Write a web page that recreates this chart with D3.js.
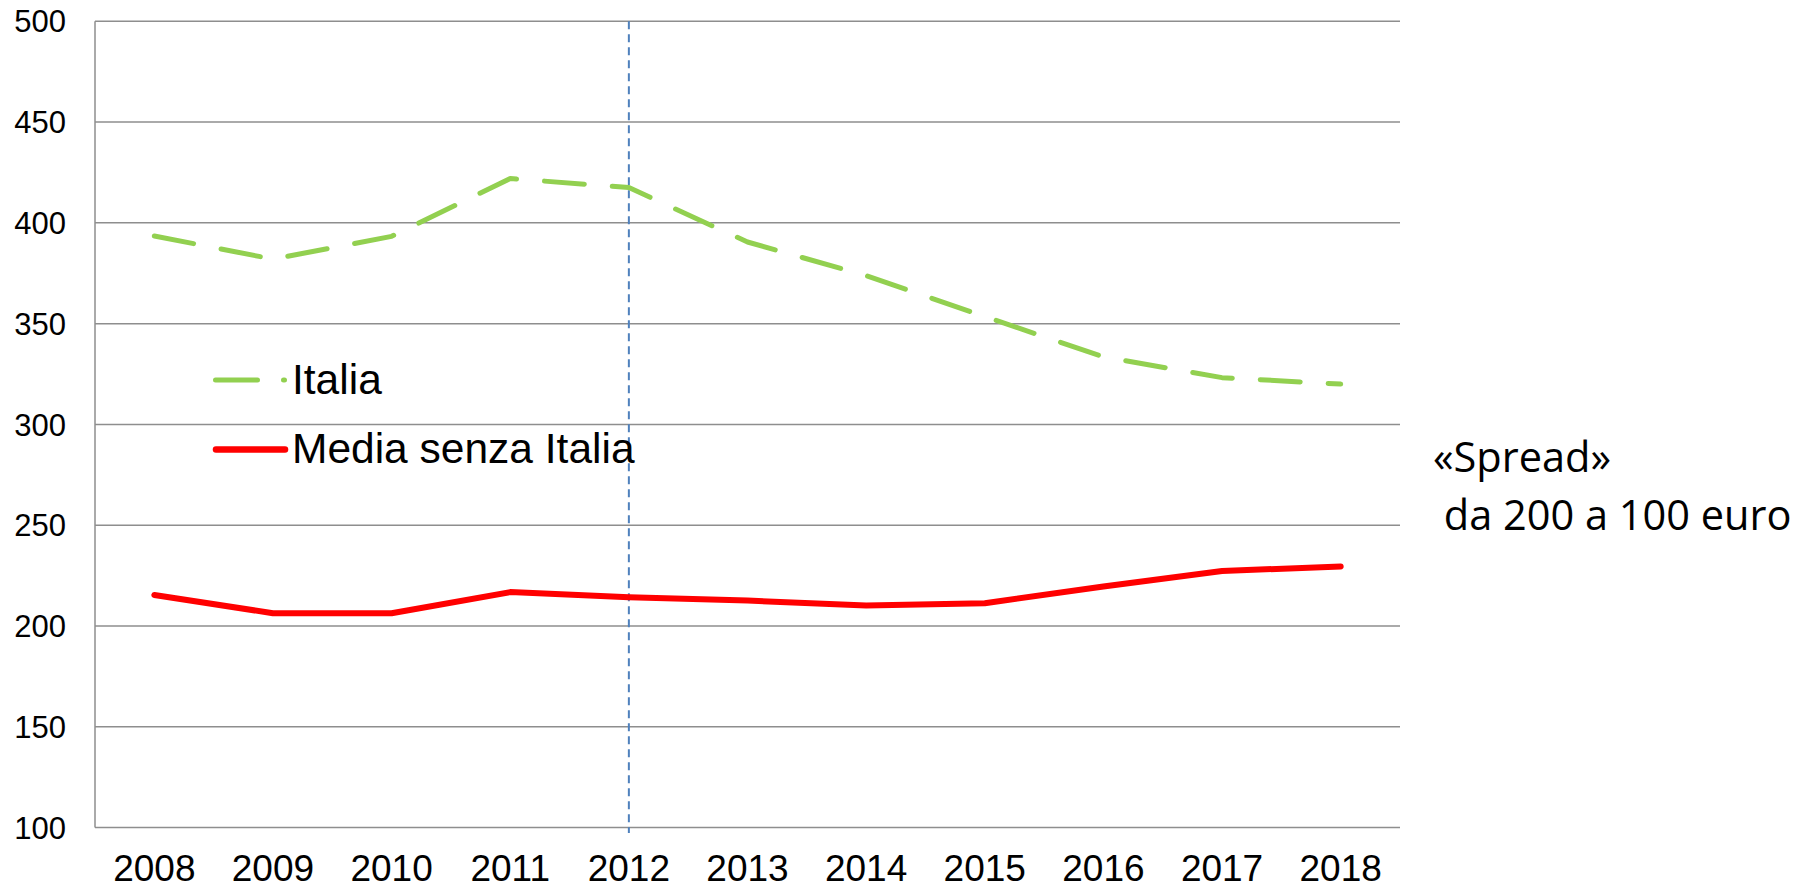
<!DOCTYPE html>
<html>
<head>
<meta charset="utf-8">
<script src="https://cdn.jsdelivr.net/npm/d3@7"></script>
<style>
  body { margin: 0; background: #fff; }
  text { font-family: "Liberation Sans", Arial, sans-serif; fill: #000; }
</style>
</head>
<body>
<div id="plot"></div>
<script>
// Data
var years = ["2008","2009","2010","2011","2012","2013","2014","2015","2016","2017","2018"];
var italia = [393.5, 382, 393.3, 422, 417.5, 390.5, 373.8, 353.5, 333.5, 323.2, 320];
var mediaSenzaItalia = [215.4, 206.3, 206.3, 216.8, 214.3, 212.6, 210.1, 211.3, 219.6, 227.3, 229.5];
var yTicks = [100, 150, 200, 250, 300, 350, 400, 450, 500];
var markYear = "2012";
var noteLines = ["«Spread»", " da 200 a 100 euro"];

var width = 1814, height = 891;
var plot = {left: 95, right: 1400, top: 21.3, bottom: 827.5};

var svg = d3.select("#plot")
     .append("svg")
     .attr("width", width)
     .attr("height", height);

var x = d3.scalePoint()
     .domain(years)
     .range([plot.left, plot.right])
     .padding(0.5);

var y = d3.scaleLinear()
     .domain([100, 500])
     .range([plot.bottom, plot.top]);

// gridlines
svg.append("g")
     .selectAll("line")
     .data(yTicks)
     .enter()
     .append("line")
     .attr("x1", plot.left)
     .attr("x2", plot.right)
     .attr("y1", function(d){ return y(d); })
     .attr("y2", function(d){ return y(d); })
     .attr("stroke", "#8e8e8e")
     .attr("stroke-width", 1.5);

// left axis line
svg.append("line")
     .attr("x1", plot.left).attr("x2", plot.left)
     .attr("y1", plot.top).attr("y2", plot.bottom)
     .attr("stroke", "#8e8e8e")
     .attr("stroke-width", 1.5);

// y labels
svg.append("g")
     .selectAll("text")
     .data(yTicks)
     .enter()
     .append("text")
     .attr("x", 66)
     .attr("y", function(d){ return y(d); })
     .attr("dy", "0.36em")
     .attr("text-anchor", "end")
     .style("font-size", "31px")
     .text(function(d){ return d; });

// x labels
svg.append("g")
     .selectAll("text")
     .data(years)
     .enter()
     .append("text")
     .attr("x", function(d){ return x(d); })
     .attr("y", 881)
     .attr("text-anchor", "middle")
     .style("font-size", "37px")
     .text(function(d){ return d; });

// vertical marker at 2012
svg.append("line")
     .attr("x1", x(markYear)).attr("x2", x(markYear))
     .attr("y1", plot.top).attr("y2", 833)
     .attr("stroke", "#4f81bd")
     .attr("stroke-width", 2)
     .attr("stroke-dasharray", "8,5");

var line = d3.line()
     .x(function(d, i){ return x(years[i]); })
     .y(function(d){ return y(d); });

svg.append("path")
     .datum(mediaSenzaItalia)
     .attr("d", line)
     .attr("fill", "none")
     .attr("stroke", "#ff0000")
     .attr("stroke-width", 6)
     .attr("stroke-linecap", "round")
     .attr("stroke-linejoin", "round");

svg.append("path")
     .datum(italia)
     .attr("d", line)
     .attr("fill", "none")
     .attr("stroke", "#92d050")
     .attr("stroke-width", 5)
     .attr("stroke-linecap", "round")
     .attr("stroke-linejoin", "round")
     .attr("stroke-dasharray", "40,28");

// legend
svg.append("line")
     .attr("x1", 215.5).attr("x2", 284.5)
     .attr("y1", 380).attr("y2", 380)
     .attr("stroke", "#92d050")
     .attr("stroke-width", 5)
     .attr("stroke-linecap", "round")
     .attr("stroke-dasharray", "42,26");

svg.append("text")
     .attr("x", 292)
     .attr("y", 394)
     .style("font-size", "42.5px")
     .text("Italia");

svg.append("line")
     .attr("x1", 216).attr("x2", 285)
     .attr("y1", 449.5).attr("y2", 449.5)
     .attr("stroke", "#ff0000")
     .attr("stroke-width", 6.5)
     .attr("stroke-linecap", "round");

svg.append("text")
     .attr("x", 292)
     .attr("y", 463)
     .style("font-size", "42.5px")
     .text("Media senza Italia");

// note on the right
svg.append("g")
     .selectAll("text")
     .data(noteLines)
     .enter()
     .append("text")
     .attr("x", 1433)
     .attr("y", function(d, i){ return 472 + i * 58; })
     .style("font-family", "'Open Sans', sans-serif")
     .style("font-size", "41.5px")
     .style("white-space", "pre")
     .attr("xml:space", "preserve")
     .text(function(d){ return d; });
</script>
</body>
</html>
